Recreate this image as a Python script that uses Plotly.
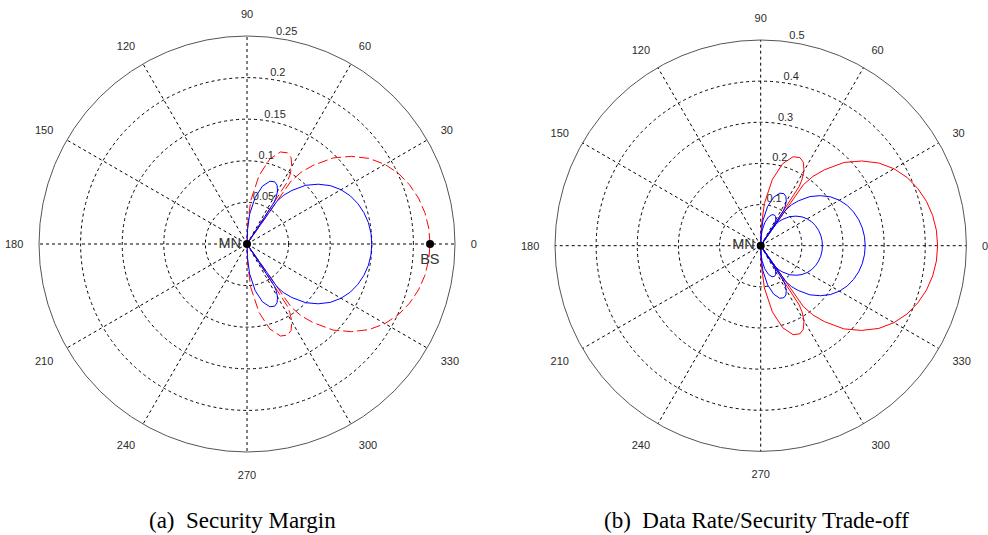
import plotly.graph_objects as go

# ---------------- data ----------------
THETA = [-90, -88, -85, -80, -75, -70, -66, -63, -60, -58, -57, -56, -55, -53, -50, -45, -40, -35, -30, -25,
         -20, -15, -10, -5, 0, 5, 10, 15, 20, 25, 30, 35, 40, 45, 50, 53, 55, 56, 57, 58, 60, 63, 66, 70,
         75, 80, 85, 88, 90]

# (a) Security margin
sm_blue = [0.0, 0.0165, 0.036, 0.057, 0.072, 0.0803, 0.0818, 0.0795, 0.0735, 0.066, 0.06, 0.0, 0.063, 0.0735,
           0.084, 0.0998, 0.1118, 0.1223, 0.1305, 0.137, 0.1418, 0.1455, 0.1481, 0.1496, 0.150, 0.1496,
           0.1481, 0.1455, 0.1418, 0.137, 0.1305, 0.1223, 0.1118, 0.0998, 0.084, 0.0735, 0.063, 0.0, 0.06,
           0.066, 0.0735, 0.0795, 0.0818, 0.0803, 0.072, 0.057, 0.036, 0.0165, 0.0]
sm_red = [0.0, 0.0242, 0.0528, 0.0836, 0.1056, 0.1177, 0.1199, 0.1166, 0.1078, 0.0968, 0.088, 0.0, 0.0924,
          0.1078, 0.1232, 0.1463, 0.1639, 0.1793, 0.1914, 0.2009, 0.2079, 0.2134, 0.2171, 0.2193, 0.220,
          0.2193, 0.2171, 0.2134, 0.2079, 0.2009, 0.1914, 0.1793, 0.1639, 0.1463, 0.1232, 0.1078, 0.0924,
          0.0, 0.088, 0.0968, 0.1078, 0.1166, 0.1199, 0.1177, 0.1056, 0.0836, 0.0528, 0.0242, 0.0]

# (b) Data rate / security trade-off
tr_red = [0.0, 0.0473, 0.1032, 0.1634, 0.2064, 0.2301, 0.2344, 0.2279, 0.2107, 0.1892, 0.172, 0.0, 0.1806,
          0.2107, 0.2408, 0.286, 0.3204, 0.3505, 0.3741, 0.3926, 0.4064, 0.4171, 0.4244, 0.4287, 0.430,
          0.4287, 0.4244, 0.4171, 0.4064, 0.3926, 0.3741, 0.3505, 0.3204, 0.286, 0.2408, 0.2107, 0.1806,
          0.0, 0.172, 0.1892, 0.2107, 0.2279, 0.2344, 0.2301, 0.2064, 0.1634, 0.1032, 0.0473, 0.0]
tr_blue_mid = [0.0, 0.0279, 0.061, 0.0965, 0.1219, 0.1359, 0.1384, 0.1346, 0.1245, 0.1118, 0.1016, 0.0,
               0.1067, 0.1245, 0.1422, 0.1689, 0.1892, 0.207, 0.221, 0.2319, 0.24, 0.2464, 0.2507, 0.2532,
               0.254, 0.2532, 0.2507, 0.2464, 0.24, 0.2319, 0.221, 0.207, 0.1892, 0.1689, 0.1422, 0.1245,
               0.1067, 0.0, 0.1016, 0.1118, 0.1245, 0.1346, 0.1384, 0.1359, 0.1219, 0.0965, 0.061, 0.0279, 0.0]
tr_blue_in = [0.0, 0.0165, 0.036, 0.057, 0.072, 0.0803, 0.0818, 0.0795, 0.0735, 0.066, 0.06, 0.0, 0.063,
              0.0735, 0.084, 0.0998, 0.1118, 0.1223, 0.1305, 0.137, 0.1418, 0.1455, 0.1481, 0.1496, 0.150,
              0.1496, 0.1481, 0.1455, 0.1418, 0.137, 0.1305, 0.1223, 0.1118, 0.0998, 0.084, 0.0735, 0.063,
              0.0, 0.06, 0.066, 0.0735, 0.0795, 0.0818, 0.0803, 0.072, 0.057, 0.036, 0.0165, 0.0]

RINGS_A = [0.05, 0.1, 0.15, 0.2, 0.25]
RING_LABELS_A = ["0.05", "0.1", "0.15", "0.2", "0.25"]
RINGS_B = [0.1, 0.2, 0.3, 0.4, 0.5]
RING_LABELS_B = ["0.1", "0.2", "0.3", "0.4", "0.5"]
ANG_TICKS = [0, 30, 60, 90, 120, 150, 180, 210, 240, 270, 300, 330]
ANG_LABELS = ["0", "30", "60", "90", "120", "150", "180", "210", "240", "270", "300", "330"]

MN_POS = (0.0, 0)
BS_POS = (0.22, 0)

CAPTIONS = ["(a)\u00a0 Security Margin", "(b)\u00a0 Data Rate/Security Trade-off"]

# ---------------- figure ----------------
RED = "#ff0000"
BLUE = "#0000ff"
TXT = "#2b2b2b"
TICKFONT = dict(family="Liberation Sans, Arial, sans-serif", size=11, color=TXT)

fig = go.Figure()


def curve(sub, r, color, dash="solid"):
    fig.add_trace(go.Scatterpolar(r=r, theta=THETA, mode="lines", subplot=sub,
                                  line=dict(color=color, width=1, dash=dash),
                                  showlegend=False, hoverinfo="skip"))


curve("polar", sm_red, RED, "10px,4px")
curve("polar", sm_blue, BLUE)

curve("polar2", tr_red, RED)
curve("polar2", tr_blue_mid, BLUE)
curve("polar2", tr_blue_in, BLUE)

# ring labels
for sub, rings, labs in (("polar", RINGS_A, RING_LABELS_A), ("polar2", RINGS_B, RING_LABELS_B)):
    fig.add_trace(go.Scatterpolar(r=rings, theta=[82] * len(rings), mode="text", text=labs,
                                  textposition="top right", textfont=TICKFONT, subplot=sub,
                                  cliponaxis=False, showlegend=False, hoverinfo="skip"))

# points MN / BS
MARKFONT = dict(family="Liberation Sans, Arial, sans-serif", size=14.5, color="#333333")
for sub in ("polar", "polar2"):
    fig.add_trace(go.Scatterpolar(r=[MN_POS[0]], theta=[MN_POS[1]], mode="markers+text", text=["MN"],
                                  textposition="middle left", textfont=MARKFONT,
                                  marker=dict(color="black", size=8), subplot=sub,
                                  cliponaxis=False, showlegend=False, hoverinfo="skip"))
fig.add_trace(go.Scatterpolar(r=[BS_POS[0]], theta=[BS_POS[1]], mode="markers",
                              marker=dict(color="black", size=8), subplot="polar",
                              cliponaxis=False, showlegend=False, hoverinfo="skip"))
# "BS" label placed a little below its marker
fig.add_trace(go.Scatterpolar(r=[BS_POS[0]], theta=[BS_POS[1] - 2.8], mode="text", text=["BS"],
                              textposition="bottom center", textfont=MARKFONT, subplot="polar",
                              cliponaxis=False, showlegend=False, hoverinfo="skip"))


def polar_layout(domx, domy, rings):
    return dict(
        domain=dict(x=domx, y=domy),
        bgcolor="white",
        radialaxis=dict(range=[0, rings[-1]], tickmode="array", tickvals=rings, showticklabels=False,
                        ticks="", showline=False, gridcolor="#000000", griddash="dot", gridwidth=1),
        angularaxis=dict(rotation=0, direction="counterclockwise", tickmode="array", tickvals=ANG_TICKS,
                         ticktext=ANG_LABELS, ticks="outside", ticklen=13, tickcolor="rgba(0,0,0,0)",
                         tickfont=TICKFONT, showline=True, linecolor="#555555", linewidth=1,
                         gridcolor="#000000", griddash="dot", gridwidth=1),
    )


CAPFONT = dict(family="Liberation Serif, Times New Roman, serif", size=23, color="black")
fig.update_layout(
    width=988, height=535, margin=dict(l=0, r=0, t=0, b=0),
    paper_bgcolor="white", plot_bgcolor="white",
    font=dict(family="Liberation Sans, Arial, sans-serif", color=TXT),
    polar=polar_layout([39 / 988, 455 / 988], [83 / 535, 499 / 535], RINGS_A),
    polar2=polar_layout([555 / 988, 966.4 / 988], [83.6 / 535, 495 / 535], RINGS_B),
    annotations=[
        dict(text=CAPTIONS[0], x=242.3 / 988, y=(535 - 520) / 535, xref="paper", yref="paper",
             showarrow=False, xanchor="center", yanchor="middle", font=CAPFONT),
        dict(text=CAPTIONS[1], x=756.7 / 988, y=(535 - 520) / 535, xref="paper", yref="paper",
             showarrow=False, xanchor="center", yanchor="middle", font=CAPFONT),
    ],
)

fig.write_html("out.html", config={"displayModeBar": False},
               post_script="document.body.style.margin='0';document.body.style.overflow='hidden';")
